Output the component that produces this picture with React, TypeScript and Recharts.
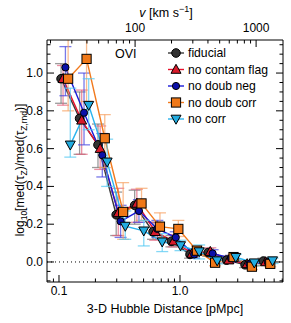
import type { FC } from "react";
import {
	ComposedChart,
	ErrorBar,
	Line,
	ReferenceLine,
	XAxis,
	YAxis,
} from "recharts";

const W = 291;
const H = 323;
const PLOT = { left: 47, right: 283, top: 40, bottom: 282 };
const FONT = "'Liberation Sans', Arial, Helvetica, sans-serif";

// km/s per pMpc, links the top velocity axis to distance
const HUBBLE = 235;
const X_DOMAIN = [0.0796, 7.1];
const V_DOMAIN = [X_DOMAIN[0] * HUBBLE, X_DOMAIN[1] * HUBBLE];
const Y_DOMAIN = [-0.106, 1.175];

const X_TICKS = [
	0.09, 0.1, 0.2, 0.3, 0.4, 0.5, 0.6, 0.7, 0.8, 0.9, 1, 2, 3, 4, 5, 6, 7,
];
const X_MAJOR = [0.1, 1];
const V_TICKS = [
	20, 30, 40, 50, 60, 70, 80, 90, 100, 200, 300, 400, 500, 600, 700, 800, 900,
	1000,
];
const V_MAJOR = [100, 1000];
const Y_TICKS = [
	-0.1, -0.05, 0, 0.05, 0.1, 0.15, 0.2, 0.25, 0.3, 0.35, 0.4, 0.45, 0.5, 0.55,
	0.6, 0.65, 0.7, 0.75, 0.8, 0.85, 0.9, 0.95, 1, 1.05, 1.1, 1.15,
];
const Y_MAJOR = [0, 0.2, 0.4, 0.6, 0.8, 1];

// fiducial
const fiducialDist = [0.104, 0.148, 0.21, 0.297, 0.422, 0.599, 0.85, 1.21, 1.71, 2.43, 3.45, 4.89];
const fiducialMed = [0.97, 0.76, 0.62, 0.25, 0.3, 0.16, 0.11, 0.04, 0.05, 0.01, -0.015, 0.005];
const fiducialLo = [0.84, 0.57, 0.5, 0.14, 0.2, 0.12, 0.08, 0.02, 0.03, -0.005, -0.03, -0.01];
const fiducialHi = [1.05, 0.9, 0.73, 0.37, 0.38, 0.21, 0.14, 0.06, 0.07, 0.03, 0.0, 0.02];

// no contam flag
const contamDist = [0.108, 0.154, 0.219, 0.309, 0.44, 0.624, 0.886, 1.26, 1.78, 2.53, 3.59, 5.1];
const contamMed = [0.97, 0.75, 0.6, 0.26, 0.31, 0.16, 0.11, 0.045, 0.055, 0.01, -0.01, 0.0];
const contamLo = [0.83, 0.57, 0.49, 0.14, 0.21, 0.115, 0.08, 0.025, 0.035, -0.005, -0.025, -0.015];
const contamHi = [1.04, 0.91, 0.72, 0.39, 0.385, 0.21, 0.145, 0.065, 0.075, 0.03, 0.005, 0.015];

// no doub neg
const negDist = [0.113, 0.161, 0.228, 0.323, 0.458, 0.65, 0.923, 1.31, 1.86, 2.64, 3.75, 5.31];
const negMed = [1.03, 0.79, 0.565, 0.215, 0.27, 0.175, 0.13, 0.04, 0.045, 0.02, -0.01, 0.0];
const negLo = [0.88, 0.62, 0.45, 0.13, 0.21, 0.13, 0.1, 0.02, 0.025, 0.0, -0.025, -0.015];
const negHi = [1.14, 1.0, 0.68, 0.3, 0.33, 0.22, 0.16, 0.06, 0.065, 0.035, 0.005, 0.015];

// no doub corr
const corrDist = [0.119, 0.169, 0.239, 0.339, 0.481, 0.683, 0.969, 1.38, 1.95, 2.77, 3.93, 5.57];
const corrMed = [0.97, 1.075, 0.655, 0.265, 0.31, 0.187, 0.175, 0.06, -0.004, 0.026, -0.025, -0.01];
const corrLo = [0.8, 0.85, 0.5, 0.12, 0.22, 0.13, 0.135, 0.035, -0.02, 0.01, -0.04, -0.025];
const corrHi = [1.25, 1.3, 0.78, 0.42, 0.39, 0.26, 0.22, 0.085, 0.015, 0.04, -0.01, 0.005];

// no corr
const nocorrDist = [0.124, 0.176, 0.25, 0.353, 0.502, 0.713, 1.01, 1.44, 2.03, 2.89, 4.11, 5.82];
const nocorrMed = [0.62, 0.83, 0.53, 0.19, 0.165, 0.107, 0.087, 0.055, 0.007, 0.025, -0.004, 0.007];
const nocorrLo = [0.555, 0.7, 0.4, 0.12, 0.085, 0.055, 0.06, 0.016, -0.01, 0.01, -0.02, -0.008];
const nocorrHi = [0.92, 0.97, 0.65, 0.27, 0.22, 0.15, 0.115, 0.09, 0.025, 0.04, 0.01, 0.02];

type MarkerKind = "circle" | "smallCircle" | "triUp" | "square" | "triDown";

const build = (d: number[], m: number[], lo: number[], hi: number[]) =>
	d.map((x, i) => ({ x, y: m[i], err: [m[i] - lo[i], hi[i] - m[i]] }));

const SERIES = [
	{ name: "fiducial", data: build(fiducialDist, fiducialMed, fiducialLo, fiducialHi), line: "#3a3a3a", fill: "#333333", err: "#707070", marker: "circle" as MarkerKind },
	{ name: "no contam flag", data: build(contamDist, contamMed, contamLo, contamHi), line: "#e8102c", fill: "#d81a2a", err: "#e2607a", marker: "triUp" as MarkerKind },
	{ name: "no doub neg", data: build(negDist, negMed, negLo, negHi), line: "#1a1ad8", fill: "#0a10a8", err: "#4040e0", marker: "smallCircle" as MarkerKind },
	{ name: "no doub corr", data: build(corrDist, corrMed, corrLo, corrHi), line: "#f27a1e", fill: "#f07818", err: "#f7a060", marker: "square" as MarkerKind },
	{ name: "no corr", data: build(nocorrDist, nocorrMed, nocorrLo, nocorrHi), line: "#2ab4ee", fill: "#22ace0", err: "#50c8f2", marker: "triDown" as MarkerKind },
];

// only used so the top velocity axis has something bound to it; drawn invisible
const velocityAnchor = V_DOMAIN.map((v) => ({ v, y: 0 }));

const Marker: FC<{ kind: MarkerKind; cx: number; cy: number; fill: string }> = ({ kind, cx, cy, fill }) => {
	if (cx == null || cy == null) return null;
	const sw = 1;
	switch (kind) {
		case "circle":
			return <circle cx={cx} cy={cy} r={4.3} fill={fill} stroke="#000" strokeWidth={sw} />;
		case "smallCircle":
			return <circle cx={cx} cy={cy} r={3.6} fill={fill} stroke="#000" strokeWidth={sw} />;
		case "square":
			return <rect x={cx - 4.6} y={cy - 4.6} width={9.2} height={9.2} fill={fill} stroke="#000" strokeWidth={sw} />;
		case "triUp":
			return <polygon points={`${cx},${cy - 5.2} ${cx + 5},${cy + 3.8} ${cx - 5},${cy + 3.8}`} fill={fill} stroke="#000" strokeWidth={sw} />;
		case "triDown":
			return <polygon points={`${cx},${cy + 5.2} ${cx + 5},${cy - 3.8} ${cx - 5},${cy - 3.8}`} fill={fill} stroke="#000" strokeWidth={sw} />;
	}
	return null;
};

const isMajor = (v: number, list: number[]) => list.some((m) => Math.abs(m - v) < 1e-6);

const XTick = (props: any) => {
	const { x, payload } = props;
	const major = isMajor(payload.value, X_MAJOR);
	const len = major ? 7 : 3.5;
	return (
		<g>
			<line x1={x} x2={x} y1={PLOT.bottom} y2={PLOT.bottom - len} stroke="#000" />
			{major && (
				<text x={x} y={PLOT.bottom + 13} textAnchor="middle" fontSize={12} fontFamily={FONT} fill="#000">
					{payload.value.toFixed(1)}
				</text>
			)}
		</g>
	);
};

const VTick = (props: any) => {
	const { x, payload } = props;
	const major = isMajor(payload.value, V_MAJOR);
	const len = major ? 7 : 3.5;
	return (
		<g>
			<line x1={x} x2={x} y1={PLOT.top} y2={PLOT.top + len} stroke="#000" />
			{major && (
				<text x={x} y={PLOT.top - 8} textAnchor="middle" fontSize={12} fontFamily={FONT} fill="#000">
					{payload.value}
				</text>
			)}
		</g>
	);
};

// left ticks, mirrored on the right edge
const YTick = (props: any) => {
	const { y, payload } = props;
	const major = isMajor(payload.value, Y_MAJOR);
	const len = major ? 7 : 3.5;
	return (
		<g>
			<line x1={PLOT.left} x2={PLOT.left + len} y1={y} y2={y} stroke="#000" />
			<line x1={PLOT.right} x2={PLOT.right - len} y1={y} y2={y} stroke="#000" />
			{major && (
				<text x={PLOT.left - 4} y={y + 4} textAnchor="end" fontSize={12} fontFamily={FONT} fill="#000">
					{payload.value.toFixed(1)}
				</text>
			)}
		</g>
	);
};

const LEGEND_ROWS = [53, 69.5, 86, 102.5, 119];

const Overlay: FC = () => (
	<svg width={W} height={H} style={{ position: "absolute", left: 0, top: 0, pointerEvents: "none" }} fontFamily={FONT}>
		<defs>
			<clipPath id="plot-clip" clipPathUnits="userSpaceOnUse">
				<rect x={PLOT.left} y={PLOT.top} width={PLOT.right - PLOT.left} height={PLOT.bottom - PLOT.top} />
			</clipPath>
		</defs>
		<text x={166} y={17} textAnchor="middle" fontSize={12.5}>
			<tspan fontStyle="italic">v</tspan> [km s
			<tspan dy={-5} fontSize={9}>−1</tspan>
			<tspan dy={5}>]</tspan>
		</text>
		<text x={165} y={313} textAnchor="middle" fontSize={12.5}>
			3-D Hubble Distance [pMpc]
		</text>
		<text transform="translate(24,170) rotate(-90)" textAnchor="middle" fontSize={12}>
			log<tspan dy={3} fontSize={8.5}>10</tspan>
			<tspan dy={-3}>[med(τ</tspan>
			<tspan dy={3} fontSize={8.5}>Z</tspan>
			<tspan dy={-3}>)/med(τ</tspan>
			<tspan dy={3} fontSize={8.5}>Z,rnd</tspan>
			<tspan dy={-3}>)]</tspan>
		</text>
		<text x={115} y={57.5} fontSize={12.5}>
			OVI
		</text>
		{SERIES.map((s, i) => (
			<g key={s.name}>
				<line x1={168} x2={184} y1={LEGEND_ROWS[i]} y2={LEGEND_ROWS[i]} stroke={s.line} strokeWidth={1.4} />
				<Marker kind={s.marker} cx={176} cy={LEGEND_ROWS[i]} fill={s.fill} />
				<text x={188} y={LEGEND_ROWS[i] + 4.3} fontSize={12.2}>
					{s.name}
				</text>
			</g>
		))}
	</svg>
);

export default function App() {
	return (
		<div style={{ position: "relative", width: W, height: H }}>
			<style>{"body{margin:0} .recharts-errorBars{clip-path:url(#plot-clip)}"}</style>
			<ComposedChart width={W} height={H} margin={{ top: 0, right: 0, bottom: 0, left: 0 }}>
				<XAxis
					xAxisId="d"
					dataKey="x"
					type="number"
					scale="log"
					domain={X_DOMAIN}
					allowDataOverflow
					ticks={X_TICKS}
					interval={0}
					tick={XTick}
					tickLine={false}
					axisLine={{ stroke: "#000" }}
					height={H - PLOT.bottom}
					orientation="bottom"
				/>
				<XAxis
					xAxisId="v"
					dataKey="v"
					type="number"
					scale="log"
					domain={V_DOMAIN}
					allowDataOverflow
					ticks={V_TICKS}
					interval={0}
					tick={VTick}
					tickLine={false}
					axisLine={{ stroke: "#000" }}
					height={PLOT.top}
					orientation="top"
				/>
				<YAxis
					yAxisId="y"
					type="number"
					domain={Y_DOMAIN}
					allowDataOverflow
					ticks={Y_TICKS}
					interval={0}
					tick={YTick}
					tickLine={false}
					axisLine={{ stroke: "#000" }}
					width={PLOT.left}
				/>
				<YAxis
					yAxisId="r"
					orientation="right"
					type="number"
					domain={Y_DOMAIN}
					allowDataOverflow
					tick={false}
					tickLine={false}
					axisLine={{ stroke: "#000" }}
					width={W - PLOT.right}
				/>
				<ReferenceLine xAxisId="d" yAxisId="y" y={0} stroke="#000" strokeDasharray="1 3" />
				<Line
					xAxisId="v"
					yAxisId="r"
					data={velocityAnchor}
					dataKey="y"
					stroke="none"
					dot={false}
					activeDot={false}
					legendType="none"
					isAnimationActive={false}
				/>
				{SERIES.map((s) => (
					<Line
						key={s.name}
						xAxisId="d"
						yAxisId="y"
						data={s.data}
						dataKey="y"
						name={s.name}
						stroke={s.line}
						strokeWidth={1.4}
						isAnimationActive={false}
						dot={(p: any) => <Marker key={`${s.name}-${p.index}`} kind={s.marker} cx={p.cx} cy={p.cy} fill={s.fill} />}
					>
						<ErrorBar dataKey="err" direction="y" width={6} stroke={s.err} strokeWidth={1.3} strokeOpacity={0.7} />
					</Line>
				))}
			</ComposedChart>
			<Overlay />
		</div>
	);
}
